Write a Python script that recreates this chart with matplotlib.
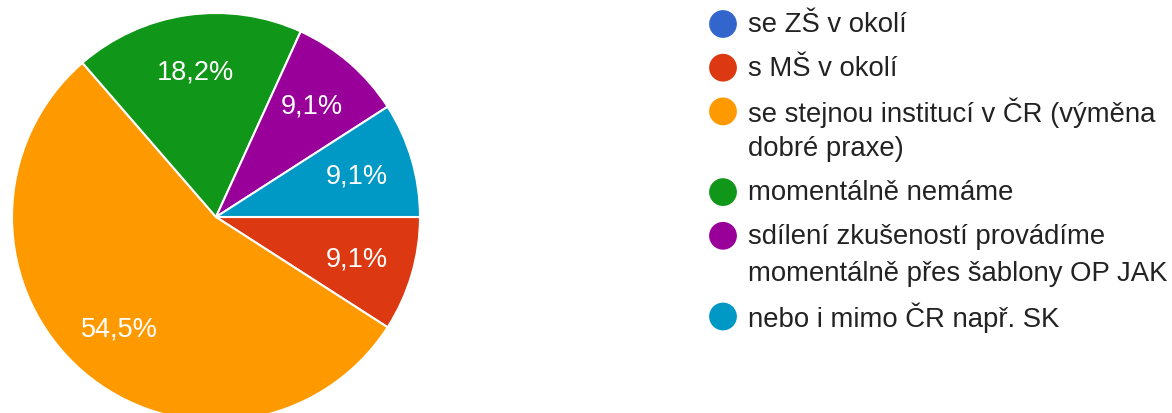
import matplotlib
matplotlib.use("Agg")
import matplotlib.pyplot as plt

# data
kategorie = [
    "se ZŠ v okolí",
    "s MŠ v okolí",
    "se stejnou institucí v ČR (výměna\ndobré praxe)",
    "momentálně nemáme",
    "sdílení zkušeností provádíme\nmomentálně přes šablony OP JAK",
    "nebo i mimo ČR např. SK",
]
hodnoty = [0, 1, 6, 2, 1, 1]
barvy = ["#3366cc", "#dc3912", "#ff9900", "#109618", "#990099", "#0099c6"]

plt.rcParams["font.family"] = ["Liberation Sans", "DejaVu Sans"]

W, H = 1172, 414
fig = plt.figure(figsize=(W / 100, H / 100), dpi=100)

# kolac
cx, cy, r = 216, 218, 204
ax = fig.add_axes([(cx - r) / W, (H - cy - r) / H, 2 * r / W, 2 * r / H])


def popisek(p):
    if p < 0.5:
        return ""
    return f"{p:.1f}%".replace(".", ",")


wedges, texty, pct = ax.pie(
    hodnoty, colors=barvy, startangle=0, counterclock=False,
    autopct=popisek, pctdistance=0.72,
    wedgeprops=dict(edgecolor="white", linewidth=1.5),
    textprops=dict(color="white", fontsize=19.5),
)
ax.set_xlim(-1, 1)
ax.set_ylim(-1, 1)
ax.set_aspect("auto")
ax.axis("off")

# legenda
leg = fig.add_axes([0, 0, 1, 1])
leg.set_xlim(0, W)
leg.set_ylim(H, 0)
leg.axis("off")
y = 25
for k, b in zip(kategorie, barvy):
    leg.scatter([723], [y], s=400, color=b, edgecolors="none")
    for i, radek in enumerate(k.split("\n")):
        leg.text(748, y + i * 37, radek, fontsize=19.8, color="#222222",
                 va="center", ha="left")
    y += 43.7 + 37 * (len(k.split("\n")) - 1)

fig.savefig("out.png", dpi=100)
